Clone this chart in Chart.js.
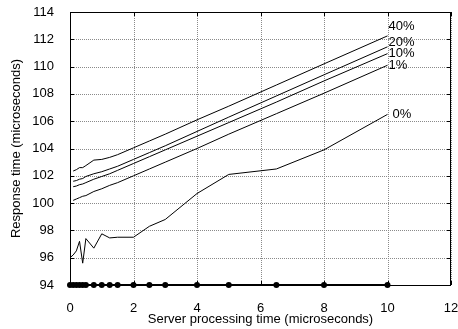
<!DOCTYPE html>
<html>
<head>
<meta charset="utf-8">
<script src="https://cdn.jsdelivr.net/npm/chart.js@4/dist/chart.umd.min.js"></script>
<style>
  html, body { margin: 0; padding: 0; background: #fff; }
  #wrap { width: 458px; height: 329px; }
</style>
</head>
<body>
<div id="wrap"><canvas id="resp"></canvas></div>
<script>
// server processing time (microseconds)
var procTimes = [0, 0.1, 0.2, 0.3, 0.4, 0.5, 0.75, 1, 1.25, 1.5, 2, 2.5, 3, 4, 5, 6.5, 8, 10];

// response time (microseconds) per load level
var load40 = [null, 102.35, 102.45, 102.6, 102.6, 102.75, 103.15, 103.2, 103.35, 103.55, 104.05, 104.55, 105.05, 106.1, 107.1, 108.65, 110.2, 112.25];
var load20 = [null, 101.6, 101.65, 101.75, 101.8, 101.95, 102.15, 102.3, 102.5, 102.7, 103.2, 103.7, 104.2, 105.25, 106.3, 107.85, 109.4, 111.45];
var load10 = [null, 101.2, 101.25, 101.35, 101.4, 101.5, 101.75, 101.95, 102.15, 102.4, 102.9, 103.4, 103.9, 104.9, 105.9, 107.4, 108.95, 110.95];
var load1  = [null, 100.2, 100.3, 100.4, 100.5, 100.55, 100.85, 101.05, 101.3, 101.5, 102.0, 102.5, 103.0, 104.0, 105.05, 106.55, 108.05, 110.1];
var load0  = [96.0, 96.2, 96.5, 97.2, 95.6, 97.4, 96.7, 97.75, 97.45, 97.5, 97.5, 98.3, 98.8, 100.7, 102.1, 102.5, 103.9, 106.5];
var baseline = [94, 94, 94, 94, 94, 94, 94, 94, 94, 94, 94, 94, 94, 94, 94, 94, 94, 94];

var seriesNames = ['40%', '20%', '10%', '1%', '0%'];
var seriesData = [load40, load20, load10, load1, load0];

function toPoints(ys) {
    return procTimes.map(function (x, i) { return { x: x, y: ys[i] }; });
}

var font = "'Liberation Sans', Arial, Helvetica, sans-serif";
var fontSize = 13;

var datasets = seriesData.map(function (ys, i) {
    return {
        label: seriesNames[i],
        data: toPoints(ys),
        borderColor: '#000',
        borderWidth: 1,
        pointRadius: 0,
        tension: 0,
        spanGaps: false
    };
});
datasets.push({
    label: 'samples',
    data: toPoints(baseline),
    borderColor: '#000',
    backgroundColor: '#000',
    borderWidth: 2,
    pointRadius: 3,
    pointBorderWidth: 0,
    clip: false
});

// dotted grid, frame, inward tick marks and the end-of-line labels
var labelOffsets = { '40%': [1, -9], '20%': [1, -4], '10%': [1, 0], '1%': [1, 0], '0%': [5, 0] };
var framePlugin = {
    id: 'frame',
    beforeDatasetsDraw: function (chart) {
        var c = chart.ctx, a = chart.chartArea;
        var xs = chart.scales.x, ys = chart.scales.y;
        c.save();
        c.strokeStyle = '#8a8a8a';
        c.lineWidth = 1;
        c.setLineDash([1, 1]);
        c.beginPath();
        xs.ticks.forEach(function (t) {
            var px = Math.round(xs.getPixelForValue(t.value)) + 0.5;
            c.moveTo(px, a.top); c.lineTo(px, a.bottom);
        });
        ys.ticks.forEach(function (t) {
            var py = Math.round(ys.getPixelForValue(t.value)) + 0.5;
            c.moveTo(a.left, py); c.lineTo(a.right, py);
        });
        c.stroke();
        c.restore();
    },
    afterDatasetsDraw: function (chart) {
        var c = chart.ctx, a = chart.chartArea;
        var xs = chart.scales.x, ys = chart.scales.y;
        c.save();
        c.strokeStyle = '#000';
        c.lineWidth = 1;
        c.strokeRect(a.left + 0.5, a.top + 0.5, a.right - a.left - 1, a.bottom - a.top);
        c.beginPath();
        xs.ticks.forEach(function (t) {
            var px = Math.round(xs.getPixelForValue(t.value)) + 0.5;
            c.moveTo(px, a.bottom); c.lineTo(px, a.bottom - 4);
            c.moveTo(px, a.top); c.lineTo(px, a.top + 4);
        });
        ys.ticks.forEach(function (t) {
            var py = Math.round(ys.getPixelForValue(t.value)) + 0.5;
            c.moveTo(a.left, py); c.lineTo(a.left + 4, py);
            c.moveTo(a.right, py); c.lineTo(a.right - 4, py);
        });
        c.stroke();

        c.fillStyle = '#000';
        c.font = fontSize + 'px ' + font;
        c.textBaseline = 'middle';
        c.textAlign = 'left';
        seriesNames.forEach(function (name, i) {
            var ys0 = seriesData[i];
            var last = ys0.length - 1;
            var px = xs.getPixelForValue(procTimes[last]);
            var py = ys.getPixelForValue(ys0[last]);
            var off = labelOffsets[name];
            c.fillText(name, px + off[0], py + off[1]);
        });
        c.restore();
    }
};

var ctx = document.getElementById('resp').getContext('2d');
var chart = new Chart(ctx, {
    type: 'line',
    data: { datasets: datasets },
    options: {
        responsive: true,
        maintainAspectRatio: false,
        animation: false,
        events: [],
        layout: { padding: { top: 12, right: 7, left: 0, bottom: 0 } },
        plugins: {
            legend: { display: false },
            tooltip: { enabled: false }
        },
        scales: {
            x: {
                type: 'linear',
                min: 0,
                max: 12,
                ticks: {
                    stepSize: 2,
                    padding: 8,
                    color: '#000',
                    font: { family: font, size: fontSize }
                },
                grid: { display: false },
                border: { display: false },
                title: {
                    display: true,
                    text: 'Server processing time (microseconds)',
                    color: '#000',
                    font: { family: font, size: fontSize },
                    padding: { top: 0, bottom: 2 }
                },
                afterFit: function (s) { s.height = 44; s.paddingLeft = 0; s.paddingRight = 0; }
            },
            y: {
                min: 94,
                max: 114,
                ticks: {
                    stepSize: 2,
                    padding: 8,
                    color: '#000',
                    font: { family: font, size: fontSize }
                },
                grid: { display: false },
                border: { display: false },
                title: {
                    display: true,
                    text: 'Response time (microseconds)',
                    color: '#000',
                    font: { family: font, size: fontSize },
                    padding: { top: 9, bottom: 0 }
                },
                afterFit: function (s) { s.width = 70; s.paddingTop = 0; s.paddingBottom = 0; }
            }
        }
    },
    plugins: [framePlugin]
});
</script>
</body>
</html>
